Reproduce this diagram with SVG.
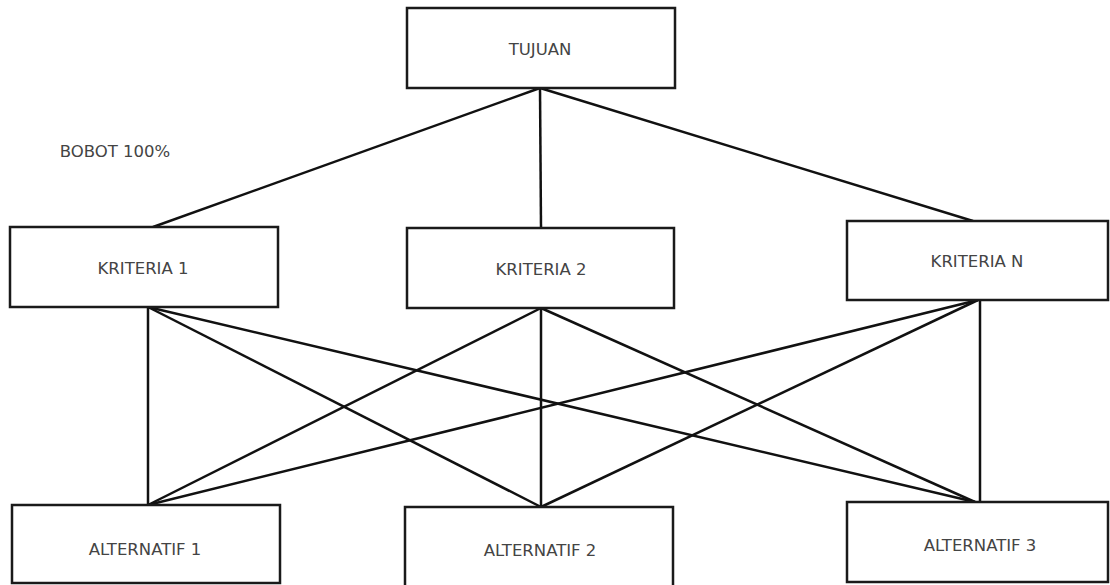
<svg xmlns="http://www.w3.org/2000/svg" width="1110" height="585" viewBox="0 0 1110 585">
<style>
.box{fill:#fff;stroke:#1a1a1a;stroke-width:2.5}
.lbl{font-family:"DejaVu Sans",sans-serif;font-size:16.5px;fill:#444;text-anchor:middle;dominant-baseline:central}
.c line{stroke:#111;stroke-width:2.5}
</style>
<rect width="1110" height="585" fill="#fff"/>
<g class="c" id="connectors">
<line x1="540" y1="88" x2="153" y2="227"/>
<line x1="540" y1="88" x2="541" y2="228"/>
<line x1="540" y1="88" x2="973" y2="221"/>
<line x1="148" y1="307" x2="148" y2="505"/>
<line x1="148" y1="307" x2="541" y2="507"/>
<line x1="148" y1="307" x2="975" y2="502"/>
<line x1="541" y1="308" x2="148" y2="505"/>
<line x1="541" y1="308" x2="541" y2="507"/>
<line x1="541" y1="308" x2="975" y2="502"/>
<line x1="978" y1="300" x2="148" y2="505"/>
<line x1="978" y1="300" x2="541" y2="507"/>
<line x1="980" y1="300" x2="980" y2="502"/>
</g>
<g id="tujuan"><rect class="box" x="407" y="8" width="268" height="80"/><text class="lbl" x="540" y="49">TUJUAN</text></g>
<g id="bobot"><text class="lbl" x="115" y="151">BOBOT 100%</text></g>
<g id="kriteria1"><rect class="box" x="10" y="227" width="268" height="80"/><text class="lbl" x="143" y="268">KRITERIA 1</text></g>
<g id="kriteria2"><rect class="box" x="407" y="228" width="267" height="80"/><text class="lbl" x="541" y="269">KRITERIA 2</text></g>
<g id="kriterian"><rect class="box" x="847" y="221" width="261" height="79"/><text class="lbl" x="977" y="261">KRITERIA N</text></g>
<g id="alt1"><rect class="box" x="12" y="505" width="268" height="78"/><text class="lbl" x="145" y="549">ALTERNATIF 1</text></g>
<g id="alt2"><rect class="box" x="405" y="507" width="268" height="80"/><text class="lbl" x="540" y="550">ALTERNATIF 2</text></g>
<g id="alt3"><rect class="box" x="847" y="502" width="261" height="80"/><text class="lbl" x="980" y="545">ALTERNATIF 3</text></g>
</svg>
